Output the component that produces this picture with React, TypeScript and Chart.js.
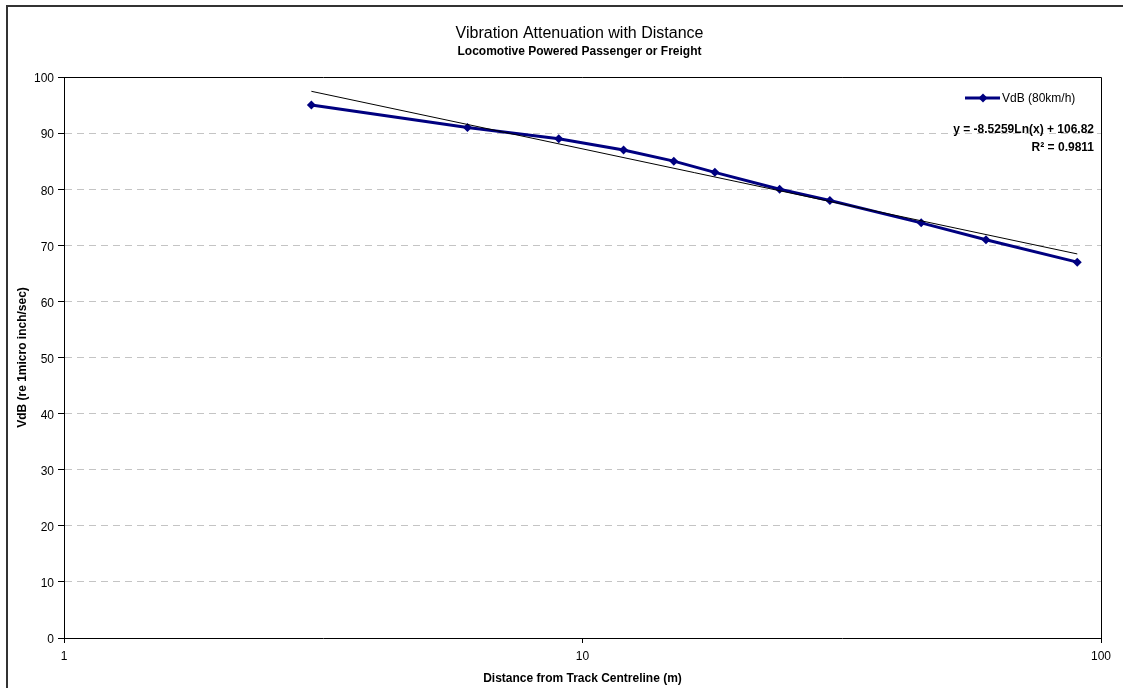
import React, { useEffect, useRef } from "react";
import { Chart, registerables } from "chart.js";

Chart.register(...registerables);

const distances = [3, 6, 9, 12, 15, 18, 24, 30, 45, 60, 90];
const vdb = [95, 91, 89, 87, 85, 83, 80, 78, 74, 71, 67];
const trendX = [3, 90];
const trendY = [97.45, 68.46];
const xTicks = [1, 10, 100];
const yTicks = [0, 10, 20, 30, 40, 50, 60, 70, 80, 90, 100];

const titleText = "Vibration Attenuation with Distance";
const subtitleText = "Locomotive Powered Passenger or Freight";
const seriesLabel = "VdB (80km/h)";
const eqText = "y = -8.5259Ln(x) + 106.82";
const r2Text = "R\u00B2 = 0.9811";

const FONT = "'Liberation Sans', Arial, sans-serif";

const decorPlugin = {
  id: "decor",
  afterDraw(chart: any) {
    const { ctx, chartArea } = chart;
    ctx.save();
    // outer frame
    ctx.strokeStyle = "#333";
    ctx.lineWidth = 2;
    ctx.beginPath();
    ctx.moveTo(7, 688);
    ctx.lineTo(7, 6);
    ctx.lineTo(1123, 6);
    ctx.stroke();
    // plot border top/right
    ctx.strokeStyle = "#000";
    ctx.lineWidth = 1;
    ctx.beginPath();
    ctx.moveTo(chartArea.left, Math.round(chartArea.top) + 0.5);
    ctx.lineTo(Math.round(chartArea.right) + 0.5, Math.round(chartArea.top) + 0.5);
    ctx.lineTo(Math.round(chartArea.right) + 0.5, chartArea.bottom);
    ctx.stroke();
    // titles
    const cx = (chartArea.left + chartArea.right) / 2 - 3;
    ctx.fillStyle = "#000";
    ctx.textAlign = "center";
    ctx.textBaseline = "middle";
    ctx.font = `16px ${FONT}`;
    ctx.fillText(titleText, cx, 34);
    ctx.font = `bold 12px ${FONT}`;
    ctx.fillText(subtitleText, cx, 52);
    // legend
    ctx.strokeStyle = "#000080";
    ctx.lineWidth = 3;
    ctx.beginPath();
    ctx.moveTo(965, 98);
    ctx.lineTo(1000, 98);
    ctx.stroke();
    ctx.fillStyle = "#000080";
    ctx.beginPath();
    ctx.moveTo(983, 93.5);
    ctx.lineTo(987.5, 98);
    ctx.lineTo(983, 102.5);
    ctx.lineTo(978.5, 98);
    ctx.closePath();
    ctx.fill();
    ctx.fillStyle = "#000";
    ctx.textAlign = "left";
    ctx.font = `12px ${FONT}`;
    ctx.fillText(seriesLabel, 1002, 99);
    // trend equation
    ctx.textAlign = "right";
    ctx.font = `bold 12px ${FONT}`;
    ctx.fillText(eqText, 1094, 130);
    ctx.fillText(r2Text, 1094, 148);
    ctx.restore();
  },
};

export default function App() {
  const ref = useRef<HTMLCanvasElement | null>(null);
  useEffect(() => {
    document.body.style.margin = "0";
    const canvas = ref.current;
    if (!canvas) return;
    const chart = new Chart(canvas, {
      type: "line",
      data: {
        datasets: [
          {
            label: "Trend",
            data: trendX.map((x, i) => ({ x, y: trendY[i] })),
            borderColor: "#000",
            borderWidth: 1,
            pointRadius: 0,
            fill: false,
            tension: 0,
          },
          {
            label: seriesLabel,
            data: distances.map((x, i) => ({ x, y: vdb[i] })),
            borderColor: "#000080",
            backgroundColor: "#000080",
            borderWidth: 3,
            pointStyle: "rectRot",
            pointRadius: 4.5,
            pointBorderWidth: 0,
            fill: false,
            tension: 0,
          },
        ],
      },
      plugins: [decorPlugin],
      options: {
        responsive: false,
        animation: false,
        layout: { padding: { left: 8, top: 77, right: 22, bottom: 0 } },
        plugins: {
          legend: { display: false },
          title: { display: false },
          tooltip: { enabled: false },
        },
        scales: {
          x: {
            type: "logarithmic",
            min: 1,
            max: 100,
            afterBuildTicks: (scale: any) => {
              scale.ticks = xTicks.map((v) => ({ value: v, major: true }));
            },
            afterFit: (scale: any) => {
              scale.height = 50;
            },
            ticks: {
              color: "#000",
              font: { family: FONT, size: 12 },
              padding: 6,
              maxRotation: 0,
              autoSkip: false,
              callback: (v: any) => String(v),
            },
            grid: {
              drawOnChartArea: false,
              drawTicks: true,
              tickLength: 5,
              tickColor: "#000",
              color: "#000",
            },
            border: { display: true, color: "#000", width: 1 },
            title: {
              display: true,
              text: "Distance from Track Centreline (m)",
              color: "#000",
              font: { family: FONT, size: 12, weight: "bold" },
              padding: { top: 0, bottom: 2 },
            },
          },
          y: {
            type: "linear",
            min: 0,
            max: 100,
            afterBuildTicks: (scale: any) => {
              scale.ticks = yTicks.map((v) => ({ value: v }));
            },
            afterFit: (scale: any) => {
              scale.width = 56;
            },
            ticks: {
              color: "#000",
              font: { family: FONT, size: 12 },
              padding: 4,
              autoSkip: false,
              labelOffset: 2,
            },
            grid: {
              color: (c: any) =>
                c.tick && (c.tick.value === 0 || c.tick.value === 100)
                  ? "rgba(0,0,0,0)"
                  : "#c4c4c4",
              lineWidth: 1,
              tickColor: "#000",
              tickLength: 6,
              tickBorderDash: [],
            },
            border: { display: true, color: "#000", width: 1, dash: [7, 5] },
            title: {
              display: true,
              text: "VdB (re 1micro inch/sec)",
              color: "#000",
              font: { family: FONT, size: 12, weight: "bold" },
              padding: { top: 7, bottom: 0 },
            },
          },
        },
      },
    } as any);
    return () => chart.destroy();
  }, []);
  return (
    <div style={{ position: "relative", width: 1123, height: 688 }}>
      <canvas ref={ref} width={1123} height={688} style={{ display: "block" }} />
    </div>
  );
}
